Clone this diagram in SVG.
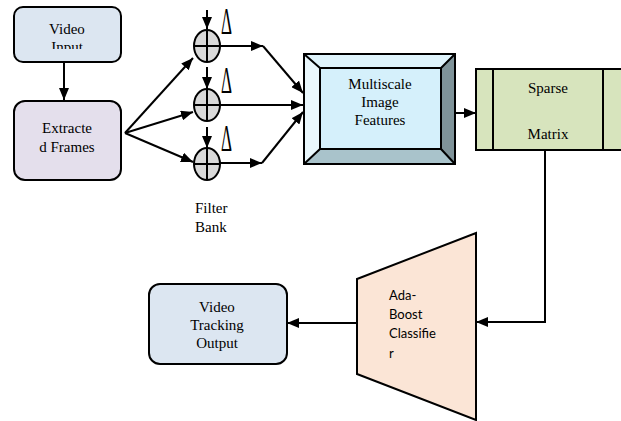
<svg xmlns="http://www.w3.org/2000/svg" width="621" height="421" viewBox="0 0 621 421">
<style>
.box{stroke:#000;stroke-width:2}
.t{fill:#000;text-anchor:middle}
.c{fill:#000}
.ln{stroke:#000;stroke-width:2;fill:none}
.arr{stroke:#000;stroke-width:2;fill:none;marker-end:url(#ah)}
.sum{fill:#d9d9d9;stroke:#000;stroke-width:2}
.dl{fill:#000;font-size:38px}
</style>
<defs>
<marker id="ah" viewBox="0 0 12 10" refX="12" refY="5" markerWidth="12" markerHeight="10" markerUnits="userSpaceOnUse" orient="auto">
<path d="M0,0 L12,5 L0,10 z" fill="#000"/>
</marker>
<clipPath id="vin"><rect x="14" y="7" width="107" height="42"/></clipPath>
</defs>
<rect width="621" height="421" fill="#fff"/>

<g id="connectors">
<line class="arr" x1="64" y1="62" x2="64" y2="100"/>
<line class="arr" x1="125" y1="133" x2="193" y2="58"/>
<line class="arr" x1="125" y1="133" x2="193" y2="112"/>
<line class="arr" x1="125" y1="133" x2="193" y2="162"/>
<line class="arr" x1="207" y1="10" x2="207" y2="29"/>
<line class="arr" x1="207" y1="67" x2="207" y2="89"/>
<line class="arr" x1="207" y1="127" x2="207" y2="148"/>
<line class="arr" x1="220" y1="46" x2="263" y2="46"/>
<line class="arr" x1="263" y1="46" x2="303" y2="93"/>
<line class="arr" x1="220" y1="105" x2="303" y2="105"/>
<line class="arr" x1="220" y1="163" x2="262" y2="163"/>
<line class="arr" x1="262" y1="163" x2="303" y2="112"/>
<line class="arr" x1="455" y1="113" x2="476" y2="113"/>
<polyline class="arr" points="545,151 545,322 476,322"/>
<line class="arr" x1="357" y1="323" x2="287" y2="323"/>
</g>

<g font-family="Liberation Serif, Times New Roman, serif" font-size="15">
<g id="video-input">
<rect class="box" x="14" y="7" width="107" height="55" rx="9" fill="#dce6f1"/>
<text class="t" x="67" y="34">Video</text>
<text class="t" x="67" y="52" clip-path="url(#vin)">Input</text>
</g>

<g id="extracted-frames">
<rect class="box" x="14" y="101" width="107" height="79" rx="11" fill="#e4dfec"/>
<text class="t" x="67" y="133">Extracte</text>
<text class="t" x="67" y="152">d Frames</text>
</g>

<g id="filter-bank">
<ellipse class="sum" cx="207" cy="46" rx="13" ry="16"/>
<path class="ln" d="M194,46 H220 M207,30 V62"/>
<ellipse class="sum" cx="207" cy="105" rx="13" ry="16"/>
<path class="ln" d="M194,105 H220 M207,89 V121"/>
<ellipse class="sum" cx="207" cy="164" rx="13" ry="16"/>
<path class="ln" d="M194,164 H220 M207,148 V180"/>
<text class="dl" transform="translate(221,34) scale(0.45,1)">Δ</text>
<text class="dl" transform="translate(221,93) scale(0.45,1)">Δ</text>
<text class="dl" transform="translate(221,151) scale(0.45,1)">Δ</text>
<text x="195" y="213">Filter</text>
<text x="195" y="232">Bank</text>
</g>

<g id="multiscale">
<rect x="304" y="54" width="151" height="110" fill="#d5f0fb"/>
<polygon points="304,54 455,54 441,68 320,68" fill="#dff4fc"/>
<polygon points="304,54 320,68 320,149 304,164" fill="#eaf8fd"/>
<polygon points="455,54 455,164 441,149 441,68" fill="#7f9399"/>
<polygon points="304,164 455,164 441,149 320,149" fill="#a9c3cb"/>
<rect x="304" y="54" width="151" height="110" fill="none" stroke="#000" stroke-width="2"/>
<rect x="320" y="68" width="121" height="81" fill="none" stroke="#000" stroke-width="2"/>
<path class="ln" d="M304,54 L320,68 M455,54 L441,68 M304,164 L320,149 M455,164 L441,149" stroke-width="1.5"/>
<text class="t" x="380" y="89">Multiscale</text>
<text class="t" x="380" y="107">Image</text>
<text class="t" x="380" y="125">Features</text>
</g>

<g id="sparse-matrix">
<rect x="476" y="69" width="150" height="81" fill="#d7e4bd" stroke="#000" stroke-width="2"/>
<line class="ln" x1="493" y1="69" x2="493" y2="150"/>
<line class="ln" x1="603" y1="69" x2="603" y2="150"/>
<text class="t" x="548" y="93">Sparse</text>
<text class="t" x="548" y="139">Matrix</text>
</g>

<g id="video-tracking-output">
<rect class="box" x="149" y="284" width="138" height="80" rx="11" fill="#dce6f1"/>
<text class="t" x="217" y="312">Video</text>
<text class="t" x="217" y="330">Tracking</text>
<text class="t" x="217" y="348">Output</text>
</g>
</g>

<g id="adaboost" font-family="Lato, Liberation Sans, sans-serif" font-size="13">
<polygon class="box" points="357,279 476,233 476,420 357,374" fill="#fbe5d6"/>
<text class="c" x="389" y="300">Ada-</text>
<text class="c" x="389" y="319">Boost</text>
<text class="c" x="389" y="338">Classifie</text>
<text class="c" x="389" y="358">r</text>
</g>
</svg>
